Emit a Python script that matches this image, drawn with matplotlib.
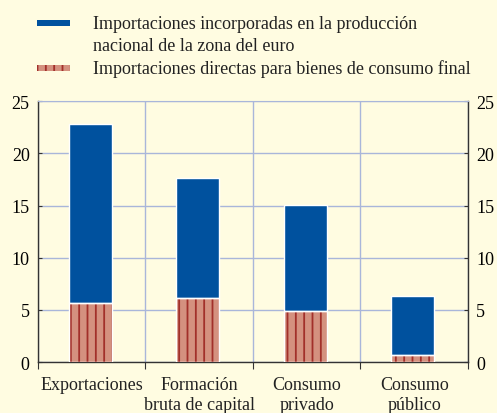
import matplotlib.pyplot as plt
import matplotlib.patches as mpatches
import numpy as np

plt.rcParams['font.family'] = ['Liberation Serif', 'DejaVu Serif']
plt.rcParams['hatch.linewidth'] = 1.3

categories = ["Exportaciones", "Formación\nbruta de capital", "Consumo\nprivado", "Consumo\npúblico"]
directas = [5.7, 6.1, 4.9, 0.7]
totales = [22.8, 17.6, 15.1, 6.3]
incorporadas = [t - d for t, d in zip(totales, directas)]
yticks = [0, 5, 10, 15, 20, 25]

bg = "#FFFCE1"
blue = "#00519E"
salmon = "#D4917F"
darkred = "#A2302A"
grid = "#A9B6DA"

fig = plt.figure(figsize=(4.97, 4.14), dpi=100, facecolor=bg)
ax = fig.add_axes([0.0765, 0.123, 0.865, 0.63])
ax.set_facecolor(bg)

x = np.arange(len(categories))
ax.bar(x - 0.015, directas, width=0.4, color=salmon, edgecolor=darkred, hatch="||",
       linewidth=0, zorder=3)
ax.bar(x - 0.015, directas, width=0.4, fill=False, edgecolor="white", linewidth=1, zorder=4)
ax.bar(x - 0.015, incorporadas, bottom=directas, width=0.4, color=blue, edgecolor="white",
       linewidth=1, zorder=3)

ax.set_xlim(-0.5, len(categories) - 0.5)
ax.set_ylim(0, 25)
ax.set_yticks(yticks)
ax.tick_params(axis="y", which="both", direction="in", length=3, labelsize=13,
               left=True, right=True, labelleft=True, labelright=True, color="#333333",
               pad=6)
ax.set_xticks(np.arange(len(categories) + 1) - 0.5)
ax.set_xticklabels([])
ax.tick_params(axis="x", direction="out", length=5, color="#333333")
for i, c in enumerate(categories):
    ax.text(i, -1.3, c, ha="center", va="top", fontsize=13, linespacing=1.25,
            color="#222222")

ax.grid(True, color=grid, linewidth=1, zorder=0)
for s in ["left", "right", "bottom"]:
    ax.spines[s].set_color("#333333")
    ax.spines[s].set_linewidth(1)
ax.spines["top"].set_color(grid)

# legend drawn by hand
fig.patches.append(mpatches.Rectangle((0.075, 0.935), 0.066, 0.0145, transform=fig.transFigure,
                                      facecolor=blue, edgecolor="none"))
fig.patches.append(mpatches.Rectangle((0.075, 0.826), 0.066, 0.0135, transform=fig.transFigure,
                                      facecolor=salmon, edgecolor=darkred, hatch="||",
                                      linewidth=0))
fig.text(0.187, 0.915, "Importaciones incorporadas en la producción\nnacional de la zona del euro",
         ha="left", va="center", fontsize=13, linespacing=1.4, color="#222222")
fig.text(0.187, 0.833, "Importaciones directas para bienes de consumo final",
         ha="left", va="center", fontsize=13, color="#222222")

fig.savefig("out.png", dpi=100, facecolor=bg)
